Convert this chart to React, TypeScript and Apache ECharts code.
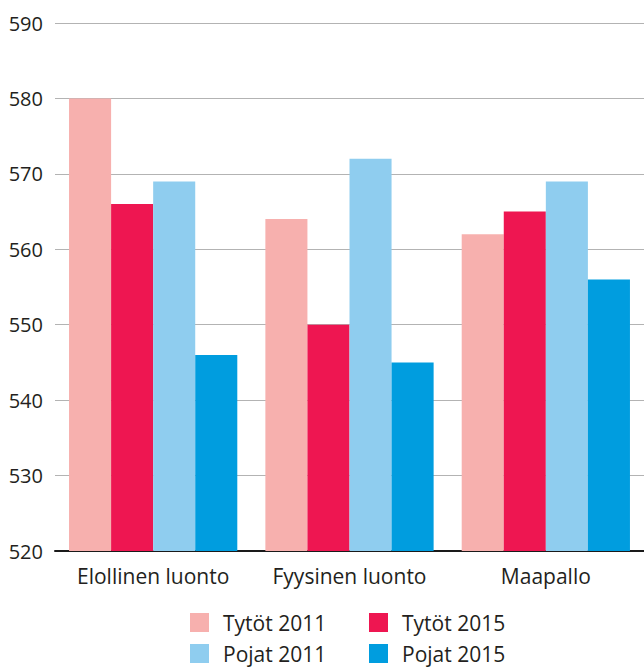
import React, { useEffect, useRef } from "react";
import * as echarts from "echarts";

const categories = ["Elollinen luonto", "Fyysinen luonto", "Maapallo"];
const seriesNames = ["Tytöt 2011", "Tytöt 2015", "Pojat 2011", "Pojat 2015"];
const tytot2011 = [580, 564, 562];
const tytot2015 = [566, 550, 565];
const pojat2011 = [569, 572, 569];
const pojat2015 = [546, 545, 556];
const colors = ["#f7b0ae", "#ee1651", "#8fcdef", "#009ddf"];

const FONT = "'Open Sans', 'Noto Sans', sans-serif";

export default function App() {
  const ref = useRef<HTMLDivElement>(null);
  useEffect(() => {
    document.body.style.margin = "0";
    const chart = echarts.init(ref.current!, null, { renderer: "svg" });
    const data = [tytot2011, tytot2015, pojat2011, pojat2015];
    const legendPos = [
      { left: 190, top: 612 },
      { left: 369, top: 612 },
      { left: 190, top: 643 },
      { left: 369, top: 643 },
    ];
    chart.setOption({
      animation: false,
      textStyle: { fontFamily: FONT },
      grid: { left: 55, right: 0, top: 23, bottom: 117 },
      legend: seriesNames.map((n, i) => ({
        data: [n],
        left: legendPos[i].left,
        top: legendPos[i].top,
        icon: "rect",
        itemWidth: 19,
        itemHeight: 19,
        itemGap: 0,
        padding: 0,
        selectedMode: false,
        textStyle: { fontSize: 21, color: "#231f20", fontFamily: FONT, padding: [0, 0, 0, 9] },
      })),
      xAxis: {
        type: "category",
        data: categories,
        axisLine: { show: true, lineStyle: { color: "#1a1a1a", width: 2 } },
        axisTick: { show: false },
        axisLabel: { interval: 0, hideOverlap: false, fontSize: 21, color: "#231f20", margin: 14, fontFamily: FONT },
      },
      yAxis: {
        type: "value",
        min: 520,
        max: 590,
        interval: 10,
        axisLine: { show: false },
        axisTick: { show: false },
        axisLabel: { fontSize: 20, color: "#231f20", margin: 12, fontFamily: FONT },
        splitLine: { lineStyle: { color: "#b3b3b3", width: 1 } },
      },
      series: seriesNames.map((n, i) => ({
        name: n,
        type: "bar",
        data: data[i],
        itemStyle: { color: colors[i] },
        barGap: "0%",
        barCategoryGap: "14.3%",
      })),
    });
    return () => chart.dispose();
  }, []);
  return <div ref={ref} style={{ width: 644, height: 668 }} />;
}
